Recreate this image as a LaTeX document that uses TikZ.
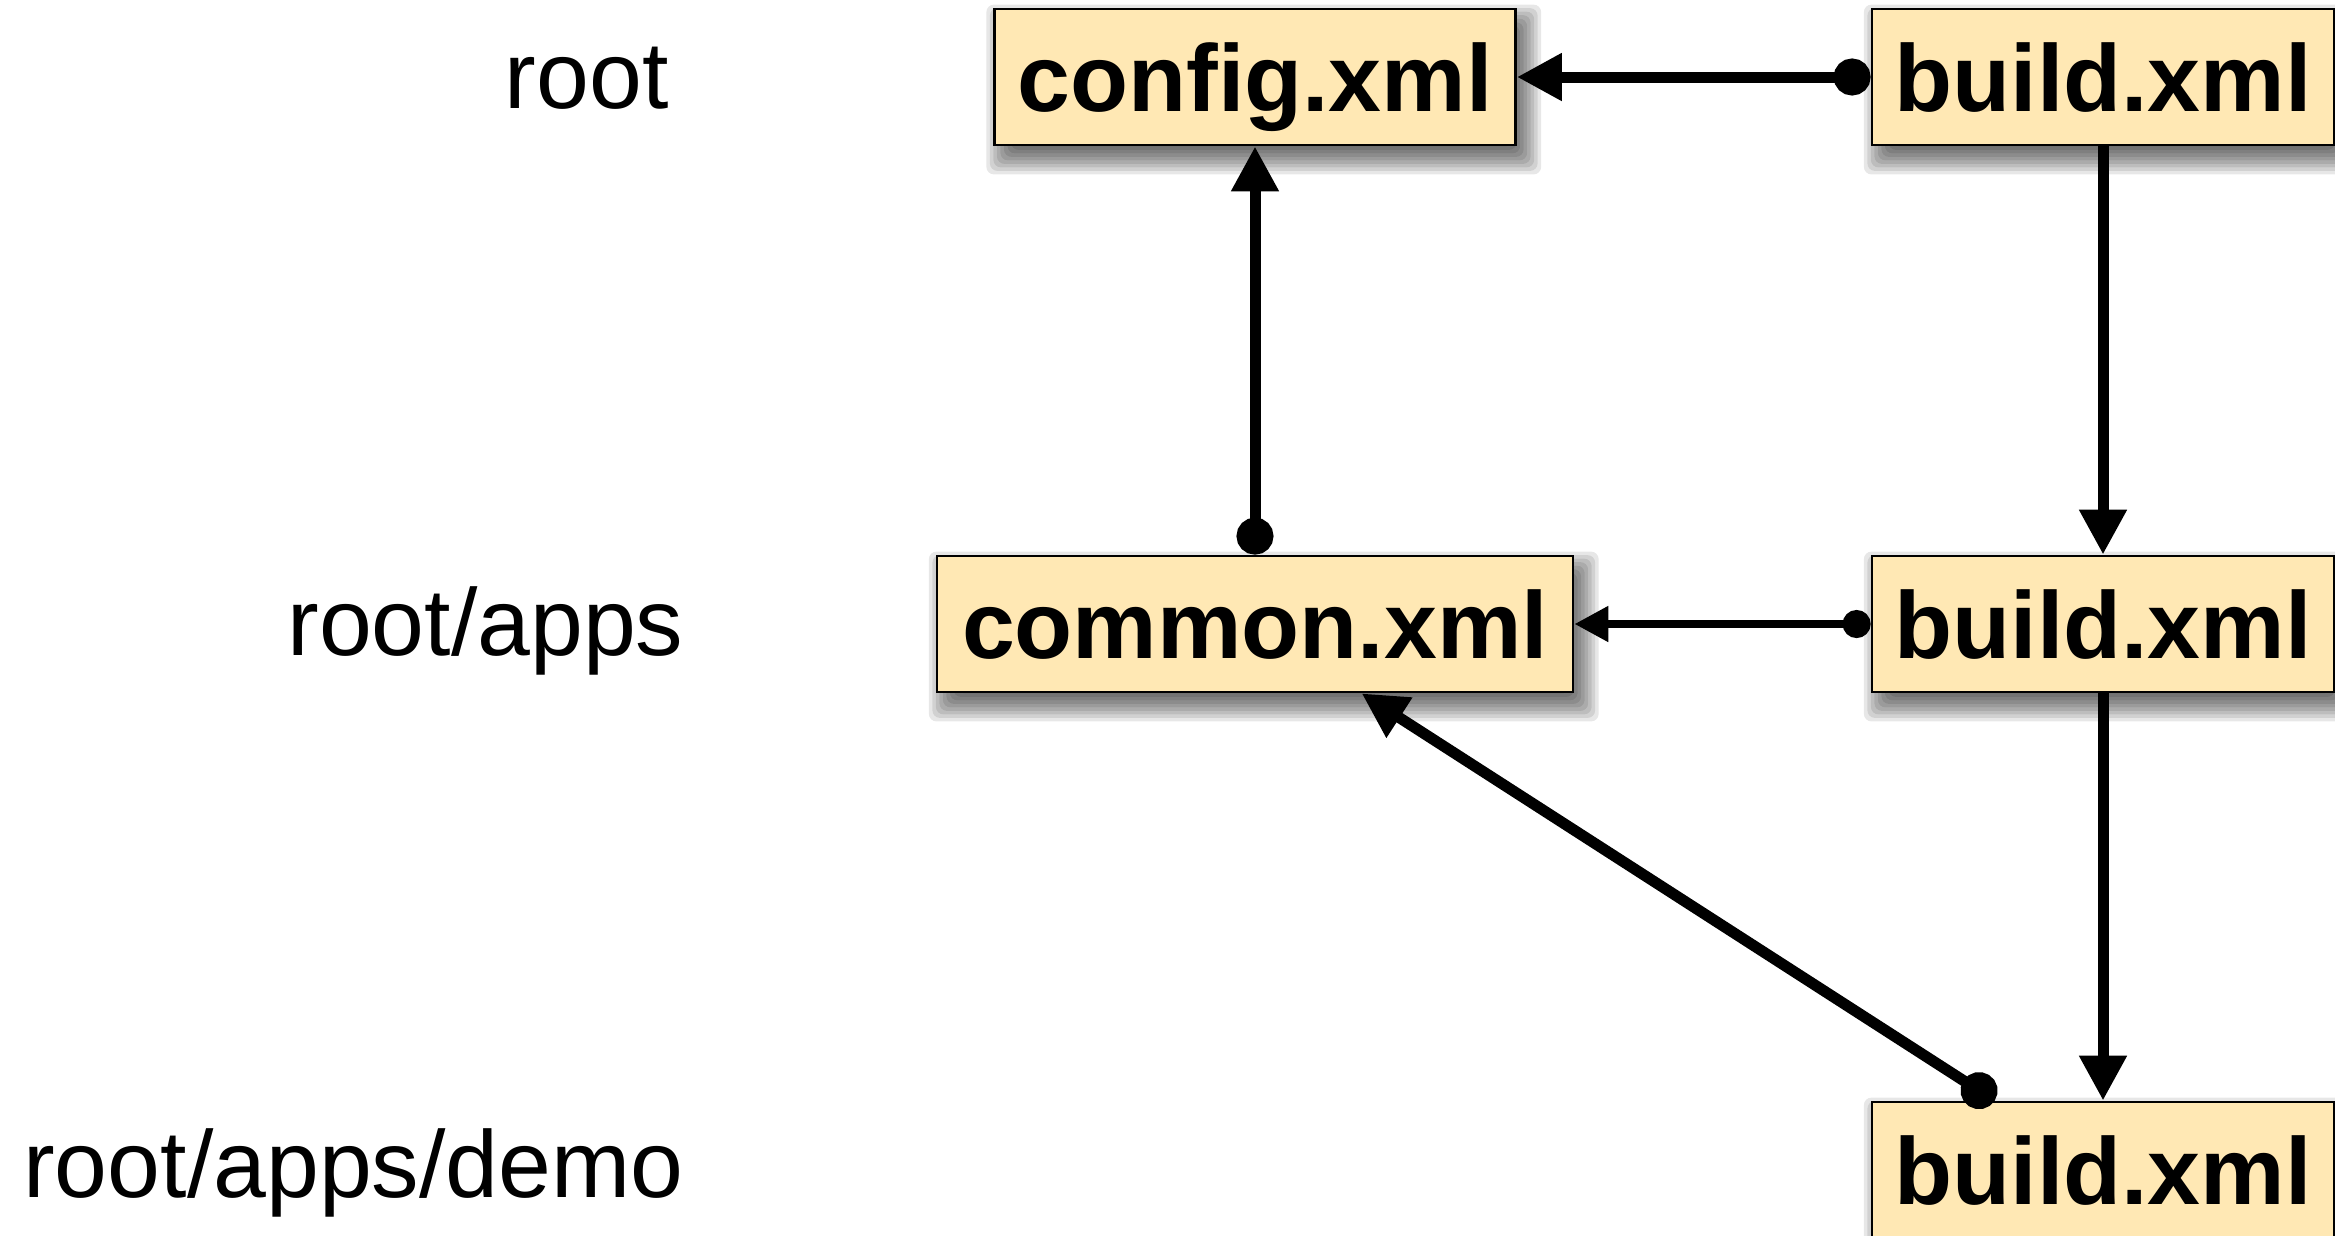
\documentclass[tikz,border=0pt]{standalone}
\usepackage{fontspec}
\setmainfont{Liberation Sans}
\usetikzlibrary{arrows.meta,calc,backgrounds}
\definecolor{boxfill}{RGB}{255,232,180}
\tikzset{
  filebox/.style={draw=black,line width=1.1pt,fill=boxfill,inner sep=0pt,
    minimum height=54.4pt,text height=27.2pt,text depth=0pt,
    font=\fontsize{38pt}{40pt}\selectfont\bfseries},
  dirlabel/.style={anchor=base east,inner sep=0pt,font=\fontsize{38pt}{40pt}\selectfont},
  link/.style={line width=4.4pt,{Circle[length=14.8pt]}-{Triangle[length=18pt,width=18pt]}},
  thinlink/.style={line width=3.2pt,{Circle[length=11.2pt]}-{Triangle[length=13.6pt,width=13.6pt]}},
  plainlink/.style={line width=4.4pt,-{Triangle[length=18pt,width=18pt]}},
}
\newcommand\boxshadow[1]{%
  \foreach \i in {0,...,8}{%
    \fill[black,opacity=0.095,rounded corners=3pt]
      ($(#1.south west)+(3.5pt-\i*1.4pt+5pt,-5pt-\i*1.4pt+5pt)$) rectangle
      ($(#1.north east)+(3.5pt+\i*1.4pt-5pt,-5pt+\i*1.4pt-5pt)$);
  }%
}
\begin{document}
\begin{tikzpicture}[x=0.4pt,y=-0.4pt]
\useasboundingbox (0,0) rectangle (2335,1235);
% nodes
\node[filebox,minimum width=208.4pt] (config) at (1255,77) {config.xml};
\node[filebox,minimum width=184.8pt] (build1) at (2103,77) {build.xml};
\node[filebox,minimum width=254.4pt] (common) at (1255,624) {common.xml};
\node[filebox,minimum width=184.8pt] (build2) at (2103,624) {build.xml};
\node[filebox,minimum width=184.8pt] (build3) at (2103,1170) {build.xml};
% labels
\node[dirlabel] (lroot) at (669,108) {root};
\node[dirlabel] (lapps) at (684,655) {root/apps};
\node[dirlabel] (ldemo) at (684,1197) {root/apps/demo};
% shadows
\begin{scope}[on background layer]
  \boxshadow{config}
  \boxshadow{build1}
  \boxshadow{common}
  \boxshadow{build2}
  \boxshadow{build3}
\end{scope}
% connectors
\draw[link] (build1.west) -- (config.east);
\draw[link] (common.north) -- (config.south);
\draw[thinlink] (build2.west) -- (common.east);
\draw[plainlink] (build1.south) -- (build2.north);
\draw[plainlink] (build2.south) -- (build3.north);
\coordinate (dstart) at ($(build3.north west)+(124,0)$);
\coordinate (dend) at ($(common.south west)+(426,0)$);
\draw[link] (dstart) -- (dend);
\end{tikzpicture}
\end{document}
